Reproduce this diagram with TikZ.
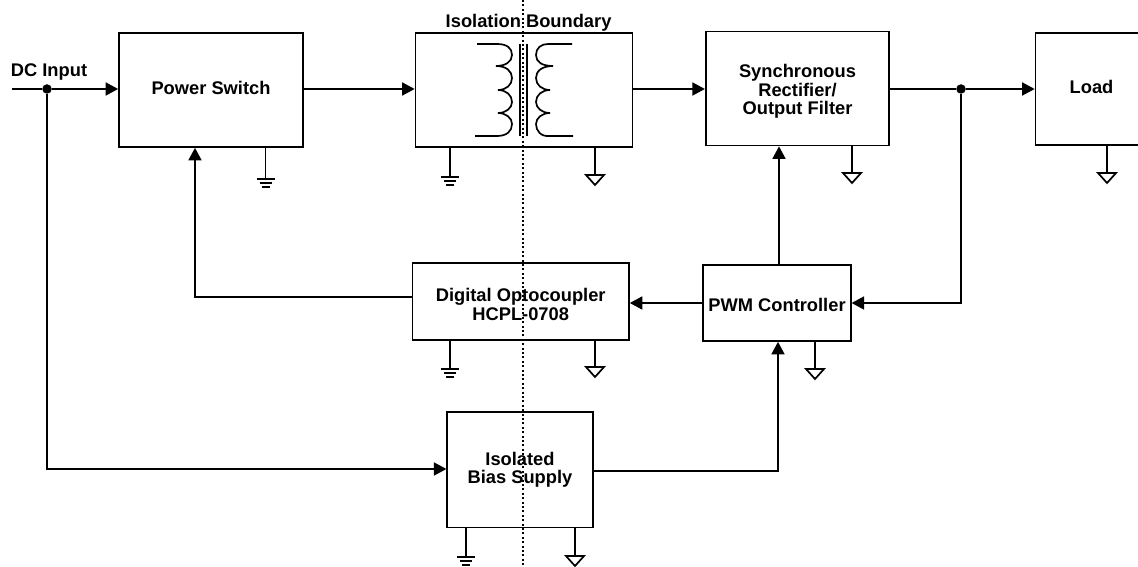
\documentclass[tikz,border=0pt]{standalone}
\usepackage{fontspec}
\setmainfont{Liberation Sans}
\usetikzlibrary{arrows.meta}
\tikzset{
  earth/.pic={\draw[wire] (-9,0) -- (9,0) (-6,4) -- (6,4) (-4,8) -- (4,8);},
  siggnd/.pic={\draw[wire,fill=white] (-9,0) -- (9,0) -- (0,10) -- cycle;}
}
\begin{document}
\begin{tikzpicture}[x=1pt,y=-1pt,every node/.style={font=\fontsize{18.3}{18.6}\selectfont\bfseries},
  wire/.style={line width=1.7pt},
  arrow/.style={wire,-{Triangle[length=12.5pt,width=13pt]}},
  box/.style={draw,line width=1.7pt,align=center,inner sep=0pt},
  tag/.style={align=center,inner sep=0pt},
  dot/.style={circle,fill=black,inner sep=0pt,minimum size=9.5pt}]
\useasboundingbox (0,0) rectangle (1138,567);
\node[box,minimum width=184pt,minimum height=114pt,label={[tag,yshift=2pt]center:Power Switch}] (ps) at (211,90) {};
\node[box,minimum width=217pt,minimum height=114pt] (xf) at (524,90) {};
\node[box,minimum width=183.5pt,minimum height=114pt,label={[tag,yshift=-3pt]center:Synchronous\\Rectifier/\\Output Filter}] (sr) at (797.5,88.5) {};
\node[box,minimum width=112pt,minimum height=112pt,label={[tag,yshift=2pt]center:Load}] (load) at (1091.5,89) {};
\node[box,minimum width=216.5pt,minimum height=76.5pt,label={[tag,yshift=-3pt]center:Digital Optocoupler\\HCPL-0708}] (opto) at (520.7,301.5) {};
\node[box,minimum width=147.5pt,minimum height=76pt,label={[tag,yshift=-2pt]center:PWM Controller}] (pwm) at (777,303) {};
\node[box,minimum width=145.5pt,minimum height=115.5pt] (bias) at (520,469.7) {Isolated\\Bias Supply};
\node (bound) at (528.6,22.5) {Isolation Boundary};
\node (dc) at (49,72) {DC Input};
\coordinate (in) at (12,89);
\node[dot] (j1) at (47,89) {};
\node[dot] (j2) at (961,89) {};
% power path
\draw[wire] (in) -- (j1);
\draw[arrow] (j1) -- (j1 -| ps.west);
\draw[arrow] (j1 -| ps.east) -- (j1 -| xf.west);
\draw[arrow] (j1 -| xf.east) -- (j1 -| sr.west);
\draw[wire] (j1 -| sr.east) -- (j2);
\draw[arrow] (j2) -- (j2 -| load.west);
% feedback
\draw[arrow] (j2) |- (pwm.east);
\draw[arrow] (pwm.west) -- (pwm.west -| opto.east);
\coordinate (fb) at (195,297);
\draw[arrow] (fb -| opto.west) -- (fb) -- (fb |- ps.south);
\coordinate (drv) at (779,200);
\draw[arrow] (drv |- pwm.north) -- (drv |- sr.south);
% bias
\coordinate (bi) at (47,469);
\coordinate (bo) at (778,471);
\draw[arrow] (j1) -- (bi) -- (bi -| bias.west);
\draw[arrow] (bo -| bias.east) -- (bo) -- (bo |- pwm.south);
% grounds
\coordinate (g1) at (265.5,179);
\coordinate (g2) at (450,177);
\coordinate (g3) at (595,175);
\coordinate (g4) at (852,173);
\coordinate (g5) at (1107,173);
\coordinate (g6) at (450,369);
\coordinate (g7) at (595,367);
\coordinate (g8) at (815,369);
\coordinate (g9) at (466,557);
\coordinate (g10) at (575,556);
\draw[wire] (g1 |- ps.south) -- (g1) pic {earth};
\draw[wire] (g2 |- xf.south) -- (g2) pic {earth};
\draw[wire] (g3 |- xf.south) -- (g3) pic {siggnd};
\draw[wire] (g4 |- sr.south) -- (g4) pic {siggnd};
\draw[wire] (g5 |- load.south) -- (g5) pic {siggnd};
\draw[wire] (g6 |- opto.south) -- (g6) pic {earth};
\draw[wire] (g7 |- opto.south) -- (g7) pic {siggnd};
\draw[wire] (g8 |- pwm.south) -- (g8) pic {siggnd};
\draw[wire] (g9 |- bias.south) -- (g9) pic {earth};
\draw[wire] (g10 |- bias.south) -- (g10) pic {siggnd};
% transformer
\draw[wire] (477,44) -- (497,44) .. controls (507,44) and (512,48) .. (512,55)
  .. controls (512,62) and (505,66) .. (496,66)
  .. controls (506,66) and (512,71) .. (512,78) .. controls (512,85) and (506,90) .. (498,90)
  .. controls (506,90) and (512,95) .. (512,102) .. controls (512,108) and (506,113) .. (498,113)
  .. controls (506,113) and (512,118) .. (512,124) .. controls (512,131) and (507,136) .. (497,136) -- (475,136);
\draw[wire] (572,44) -- (548,44) .. controls (541,44) and (536,48) .. (536,55)
  .. controls (536,62) and (542,66) .. (553,66)
  .. controls (542,66) and (536,71) .. (536,78) .. controls (536,85) and (542,90) .. (550,90)
  .. controls (542,90) and (536,95) .. (536,102) .. controls (536,108) and (542,113) .. (550,113)
  .. controls (542,113) and (536,118) .. (536,124) .. controls (536,131) and (541,137) .. (550,136) -- (573,136);
\draw[wire] (520,44) -- (520,136) (527,44) -- (527,136);
% boundary
\coordinate (bt) at (523,0);
\coordinate (bb) at (523,567);
\draw[line width=1.1pt,dash pattern=on 2pt off 2.4pt] (bt) -- (bb);
\end{tikzpicture}
\end{document}
